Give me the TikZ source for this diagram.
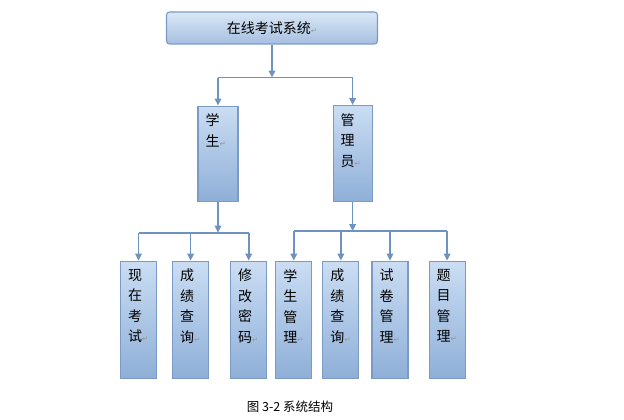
\documentclass[tikz,border=0pt]{standalone}
\usepackage{fontspec}
\setmainfont{Noto Sans CJK SC}
\newfontfamily\retfont{DejaVu Sans}
\usetikzlibrary{positioning,calc,arrows.meta}

\definecolor{boxline}{HTML}{7B9BC5}
\definecolor{boxtop}{HTML}{CADDF3}
\definecolor{boxbot}{HTML}{8FAFD8}
\definecolor{linkcol}{HTML}{6F93C0}

% paragraph mark after each text
\newcommand{\ret}{{\retfont\fontsize{7.5pt}{7.5pt}\selectfont\color{black!40}↵}}
% vertical text, top aligned in a box of given width and height
\newcommand{\vstack}[3]{\parbox[c][#2][t]{#1}{\leftskip=7.5pt\vspace*{8pt}#3}}

\begin{document}
\begin{tikzpicture}[
    font=\fontsize{14pt}{20.5pt}\selectfont,
    box/.style={
        draw=boxline,
        line width=1.1pt,
        top color=boxtop,
        bottom color=boxbot,
        inner sep=0pt
    },
    sysbox/.style={box, rounded corners=3pt, top color=boxtop!70!white,
        bottom color=boxbot!80!white, minimum width=211pt, minimum height=32pt},
    link/.style={draw=linkcol, line width=1.7pt},
    arrow/.style={link, -{Triangle[width=6.5pt,length=7pt]}}
]
\useasboundingbox (0,0) rectangle (624pt,-420pt);

% ============================================================
% SYSTEM AND ROLES
% ============================================================
\node[sysbox] (sys) at (272pt,-28pt) {在线考试系统\ret};
\node[box, below=61pt of sys, xshift=-54pt] (stu) {\vstack{40pt}{95pt}{学\\生\ret}};
\node[box, right=94pt of stu] (adm) {\vstack{39pt}{96pt}{管\\理\\员\ret}};

% ============================================================
% FUNCTIONS
% ============================================================
\node[box, below=59pt of stu, xshift=-79.5pt] (exam) {\vstack{36pt}{117pt}{现\\在\\考\\试\ret}};
\node[box, right=15pt of exam] (score) {\vstack{36pt}{117pt}{成\\绩\\查\\询\ret}};
\node[box, right=21pt of score] (passwd) {\vstack{36pt}{117pt}{修\\改\\密\\码\ret}};
\node[box, right=8pt of passwd] (stumgr) {\vstack{36pt}{117pt}{学\\生\\管\\理\ret}};
\node[box, right=10pt of stumgr] (scoremgr) {\vstack{36pt}{117pt}{成\\绩\\查\\询\ret}};
\node[box, right=12pt of scoremgr] (paper) {\vstack{36pt}{117pt}{试\\卷\\管\\理\ret}};
\node[box, right=20pt of paper] (quest) {\vstack{36pt}{117pt}{题\\目\\管\\理\ret}};

% ============================================================
% CONNECTORS
% ============================================================
\coordinate (b0) at ($(sys.south)+(0,-33pt)$);
\draw[arrow] (sys.south) -- (b0);
\draw[link] (stu.north |- b0) -- (adm.north |- b0);
\foreach \n in {stu,adm}
    \draw[arrow] (\n.north |- b0) -- (\n.north);

\coordinate (b1) at ($(stu.south)+(0,-31pt)$);
\draw[arrow] (stu.south) -- (b1);
\draw[link] (exam.north |- b1) -- (passwd.north |- b1);
\foreach \n in {exam,score,passwd}
    \draw[arrow] (\n.north |- b1) -- (\n.north);

\coordinate (b2) at ($(adm.south)+(0,-29pt)$);
\draw[arrow] (adm.south) -- (b2);
\draw[link] (stumgr.north |- b2) -- (quest.north |- b2);
\foreach \n in {stumgr,scoremgr,paper,quest}
    \draw[arrow] (\n.north |- b2) -- (\n.north);

% caption
\node[font=\fontsize{12.5pt}{14pt}\selectfont] (caption) at (290pt,-407pt) {图\ 3-2\ 系统结构};

\end{tikzpicture}
\end{document}
